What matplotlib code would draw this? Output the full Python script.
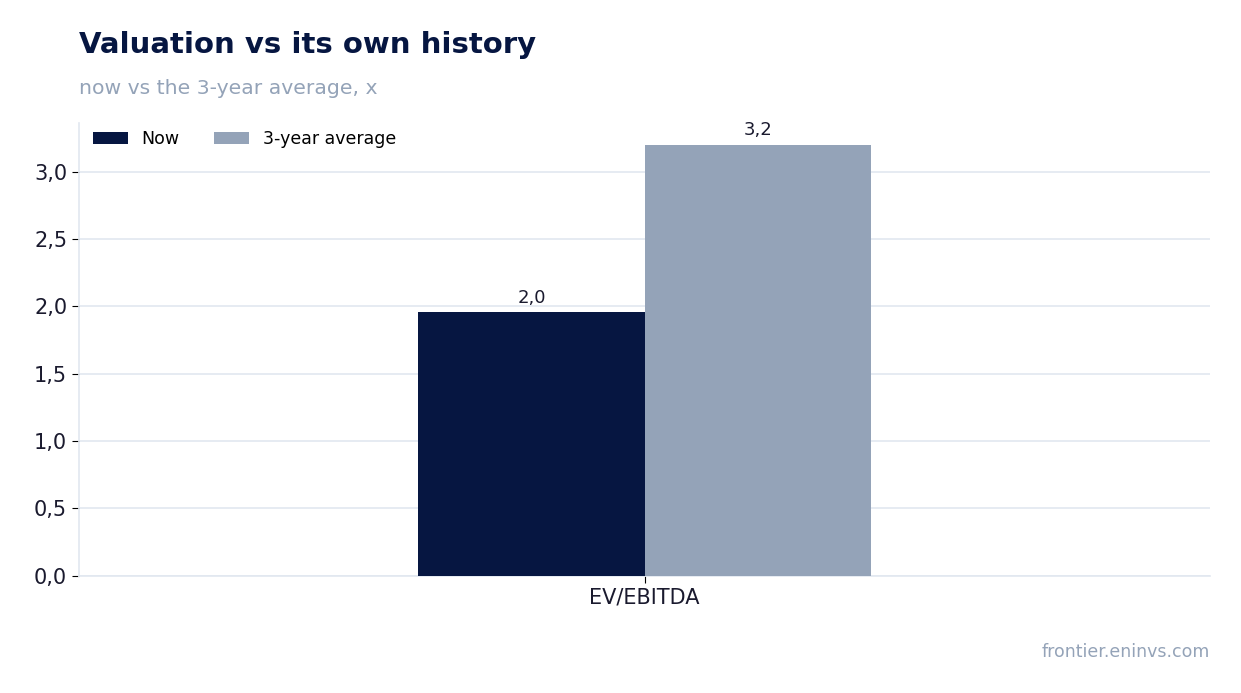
import matplotlib
matplotlib.use("Agg")
import matplotlib.pyplot as plt
from matplotlib.ticker import FuncFormatter

categories = ["EV/EBITDA"]
now_values = [1.955]
avg_values = [3.2]
series_names = ["Now", "3-year average"]

NAVY = "#061641"
SLATE = "#94a3b8"
GRID = "#e2e8f0"

fig = plt.figure(figsize=(12.41, 6.93), dpi=100)
ax = fig.add_axes([0.0637, 0.169, 0.9113, 0.6535])

x = list(range(len(categories)))
w = 0.2
b1 = ax.bar([i - w / 2 for i in x], now_values, w, color=NAVY, label=series_names[0], zorder=3)
b2 = ax.bar([i + w / 2 for i in x], avg_values, w, color=SLATE, label=series_names[1], zorder=3)

comma = lambda v: f"{v + 1e-9:.1f}".replace(".", ",")
for bars in (b1, b2):
    for r in bars:
        ax.annotate(comma(r.get_height()), (r.get_x() + r.get_width() / 2, r.get_height()),
                    xytext=(0, 4), textcoords="offset points", ha="center", va="bottom",
                    fontsize=13, color="#1a1a2e")

ax.set_xlim(-0.5, 0.5)
ax.set_ylim(0, max(avg_values + now_values) * 1.05)
ax.set_xticks(x)
ax.set_xticklabels(categories, fontsize=15, color="#1a1a2e")
ax.yaxis.set_major_formatter(FuncFormatter(lambda v, p: comma(v)))
ax.tick_params(axis="y", labelsize=15, labelcolor="#1a1a2e", length=5)
ax.tick_params(axis="x", length=5)
ax.grid(axis="y", color=GRID, linewidth=1.2, zorder=0)
for s in ("top", "right"):
    ax.spines[s].set_visible(False)
for s in ("left", "bottom"):
    ax.spines[s].set_color(GRID)
    ax.spines[s].set_linewidth(1.2)

ax.legend(loc="upper left", bbox_to_anchor=(0.006, 1.0), ncol=2, frameon=False, fontsize=12.5,
          handlelength=2.0, handleheight=0.7, columnspacing=2.0, borderaxespad=0.0)

fig.text(0.0637, 0.935, "Valuation vs its own history", fontsize=21, fontweight="bold",
         color=NAVY, va="center")
fig.text(0.0637, 0.873, "now vs the 3-year average, x", fontsize=14.7, color=SLATE, va="center")
fig.text(0.975, 0.059, "frontier.eninvs.com", fontsize=12.5, color=SLATE, ha="right", va="center")

fig.savefig("out.png", dpi=100)
